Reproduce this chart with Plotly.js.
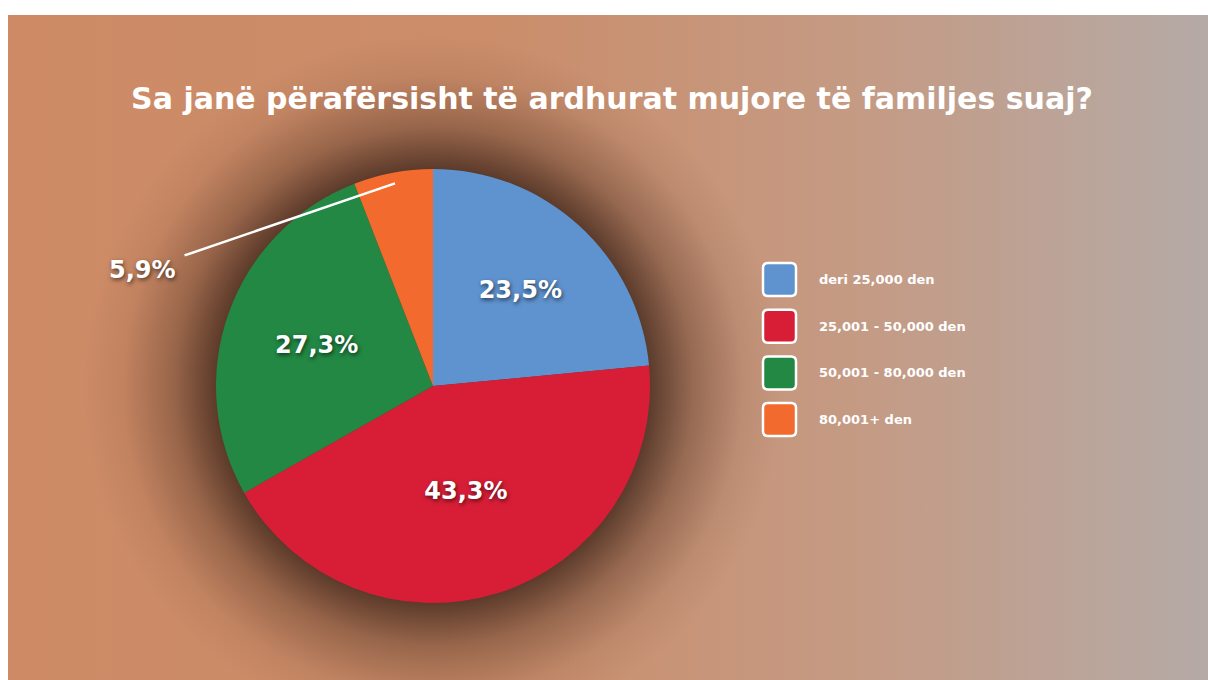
<!DOCTYPE html>
<html>
<head>
<meta charset="utf-8">
<script src="https://cdn.plot.ly/plotly-3.0.1.min.js"></script>
<style>
  html, body { margin: 0; padding: 0; background: #ffffff; width: 1208px; height: 680px; overflow: hidden; }
  #bg {
    position: absolute; left: 8px; top: 15px; width: 1200px; height: 665px;
    background:
      radial-gradient(circle at 425px 371px, rgba(70,42,30,0.92) 0px, rgba(70,42,30,0.85) 215px, rgba(90,55,38,0.45) 260px, rgba(110,70,50,0.12) 310px, rgba(110,70,50,0) 350px),
      linear-gradient(to right, #cd8a65 0%, #cb8d6a 40%, #c49b85 72%, #b5aaa6 100%);
  }
  #chart { position: absolute; left: 0; top: 0; width: 1208px; height: 680px; }
</style>
</head>
<body>
<div id="bg"></div>
<div id="chart"></div>
<script>
const categories = ['deri 25,000 den', '25,001 - 50,000 den', '50,001 - 80,000 den', '80,001+ den'];
const values = [23.5, 43.3, 27.3, 5.9];
const colors = ['#5f93cf', '#d81e36', '#228843', '#f26a2e'];
const titleText = 'Sa janë përafërsisht të ardhurat mujore të familjes suaj?';

const W = 1208, H = 680;
const px = x => x / W;
const py = y => 1 - y / H;

// pie geometry (pixels)
const cx = 433, cy = 386, R = 217;

const labels = values.map(v => v.toFixed(1).replace('.', ',') + '%');
const positions = values.map((v, i) => i === values.length - 1 ? 'none' : 'inside');

const labelFont = { family: 'DejaVu Sans, sans-serif', size: 24, color: '#ffffff', weight: 700, shadow: '1px 2px 4px rgba(0,0,0,0.6)' };

const trace = {
  type: 'pie',
  labels: categories,
  values: values,
  text: labels,
  texttemplate: '%{text}',
  textposition: positions,
  insidetextorientation: 'horizontal',
  sort: false,
  direction: 'clockwise',
  rotation: 0,
  hole: 0,
  marker: { colors: colors, line: { width: 0 } },
  textfont: labelFont,
  showlegend: false,
  hoverinfo: 'label+percent',
  domain: { x: [px(cx - R), px(cx + R)], y: [py(cy + R), py(cy - R)] }
};

// outside label for the last (small) slice, arrow tip computed from data
const total = values.reduce((a, b) => a + b, 0);
const startFrac = values.slice(0, values.length - 1).reduce((a, b) => a + b, 0) / total;
const midFrac = startFrac + values[values.length - 1] / total / 2;
const ang = midFrac * 2 * Math.PI;
const tipX = cx + 0.95 * R * Math.sin(ang);
const tipY = cy - 0.95 * R * Math.cos(ang);
const labelX = 142, labelY = 270;

const annotations = [{
  xref: 'paper', yref: 'paper',
  x: px(tipX), y: py(tipY),
  ax: labelX - tipX, ay: labelY - tipY,
  axref: 'pixel', ayref: 'pixel',
  text: labels[labels.length - 1],
  showarrow: true, arrowhead: 0, arrowwidth: 2.5, arrowcolor: '#ffffff',
  standoff: 0, startstandoff: 8,
  font: labelFont
}];

// custom legend
const shapes = [];
const legX = 763, legY0 = 263, legStep = 46.7, sq = 33, rr = 5;
function roundRect(x0, y0, w, h, r) {
  const x1 = x0 + w, y1 = y0 + h;
  const P = (x, y) => px(x) + ',' + py(y);
  return 'M ' + P(x0 + r, y0) + ' L ' + P(x1 - r, y0) + ' Q ' + P(x1, y0) + ' ' + P(x1, y0 + r) +
    ' L ' + P(x1, y1 - r) + ' Q ' + P(x1, y1) + ' ' + P(x1 - r, y1) +
    ' L ' + P(x0 + r, y1) + ' Q ' + P(x0, y1) + ' ' + P(x0, y1 - r) +
    ' L ' + P(x0, y0 + r) + ' Q ' + P(x0, y0) + ' ' + P(x0 + r, y0) + ' Z';
}
categories.forEach((c, i) => {
  const y0 = legY0 + i * legStep;
  shapes.push({
    type: 'path', xref: 'paper', yref: 'paper',
    path: roundRect(legX, y0, sq, sq, rr),
    fillcolor: colors[i], line: { color: '#ffffff', width: 2.5 }
  });
  annotations.push({
    xref: 'paper', yref: 'paper', x: px(817), y: py(y0 + sq / 2),
    xanchor: 'left', yanchor: 'middle', showarrow: false,
    text: c,
    font: { family: 'DejaVu Sans, sans-serif', size: 13, color: '#ffffff', weight: 700 }
  });
});

const layout = {
  width: W, height: H,
  margin: { l: 0, r: 0, t: 0, b: 0 },
  paper_bgcolor: 'rgba(0,0,0,0)',
  plot_bgcolor: 'rgba(0,0,0,0)',
  title: {
    text: titleText,
    x: px(612), xanchor: 'center', xref: 'paper',
    y: py(98), yanchor: 'middle', yref: 'paper',
    font: { family: 'DejaVu Sans, sans-serif', size: 30, color: '#ffffff', weight: 700 }
  },
  showlegend: false,
  shapes: shapes,
  annotations: annotations
};

Plotly.newPlot('chart', [trace], layout, { displayModeBar: false });
</script>
</body>
</html>
